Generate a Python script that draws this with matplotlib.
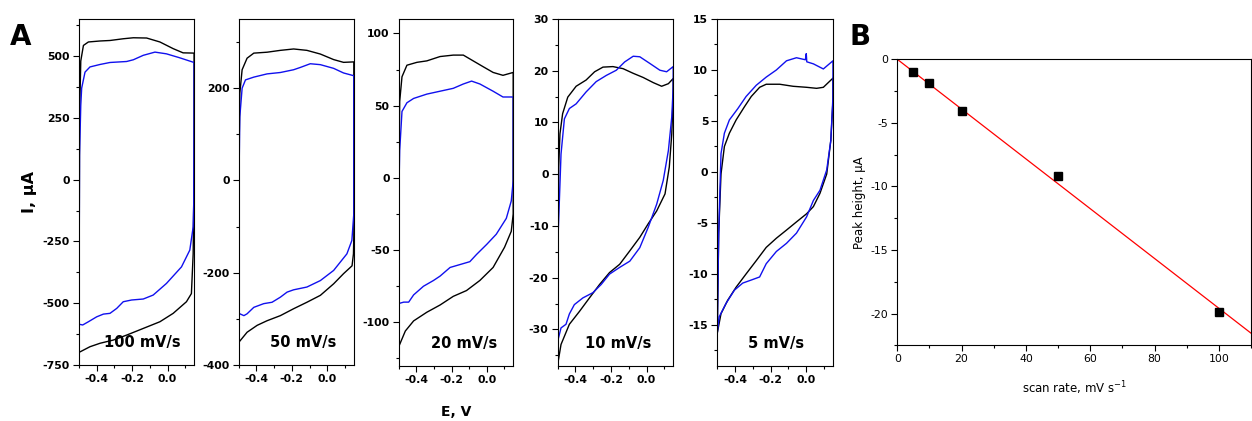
import numpy as np
import matplotlib.pyplot as plt
from matplotlib.ticker import MultipleLocator

plt.rcParams['font.family'] = ['DejaVu Sans']
plt.rcParams['axes.unicode_minus'] = False

# (E / V, I / uA) for the anodic (fwd) and cathodic (rev) half of each scan
cv100_black_fwd = [(-0.500, -699), (-0.497, 250), (-0.490, 480), (-0.475, 543), (-0.447, 557),
                   (-0.381, 561), (-0.325, 563), (-0.250, 570), (-0.193, 574), (-0.118, 573),
                   (-0.043, 557), (0.032, 530), (0.088, 513), (0.150, 512)]
cv100_black_rev = [(0.150, 30), (0.145, -300), (0.135, -461), (0.107, -494), (0.032, -541),
                   (-0.043, -575), (-0.137, -602), (-0.231, -629), (-0.306, -649), (-0.381, -662),
                   (-0.438, -676), (-0.500, -699)]
cv100_blue_fwd = [(-0.500, -585), (-0.497, 100), (-0.490, 300), (-0.485, 370), (-0.466, 435),
                  (-0.438, 456), (-0.381, 466), (-0.325, 474), (-0.231, 478), (-0.193, 485),
                  (-0.137, 503), (-0.071, 516), (-0.006, 509), (0.069, 493), (0.150, 474)]
cv100_blue_rev = [(0.150, 267), (0.148, -100), (0.145, -191), (0.126, -285), (0.079, -353),
                  (-0.006, -420), (-0.081, -467), (-0.137, -483), (-0.203, -487), (-0.250, -494),
                  (-0.287, -521), (-0.325, -541), (-0.362, -544), (-0.400, -555), (-0.447, -575),
                  (-0.479, -588), (-0.500, -585)]

cv50_black_fwd = [(-0.500, -351), (-0.497, 100), (-0.494, 189), (-0.481, 240), (-0.453, 265),
                  (-0.415, 276), (-0.340, 278), (-0.265, 282), (-0.190, 285), (-0.115, 282),
                  (-0.039, 274), (0.036, 262), (0.092, 256), (0.150, 257)]
cv50_black_rev = [(0.150, -120), (0.148, -159), (0.140, -185), (0.092, -202), (0.036, -224),
                  (-0.039, -249), (-0.115, -264), (-0.190, -278), (-0.265, -293), (-0.340, -304),
                  (-0.396, -314), (-0.453, -329), (-0.500, -351)]
cv50_blue_fwd = [(-0.500, -289), (-0.497, 50), (-0.494, 138), (-0.481, 200), (-0.462, 218),
                 (-0.415, 224), (-0.340, 231), (-0.265, 234), (-0.190, 240), (-0.152, 245),
                 (-0.096, 253), (-0.039, 251), (0.036, 243), (0.092, 233), (0.150, 227)]
cv50_blue_rev = [(0.150, -72), (0.139, -130), (0.111, -159), (0.036, -195), (-0.039, -217),
                 (-0.115, -231), (-0.190, -237), (-0.227, -242), (-0.265, -253), (-0.312, -264),
                 (-0.359, -267), (-0.415, -275), (-0.453, -289), (-0.471, -293), (-0.494, -289),
                 (-0.500, -289)]

cv20_black_fwd = [(-0.500, -117), (-0.497, 20), (-0.494, 53), (-0.481, 70), (-0.453, 78),
                  (-0.396, 80), (-0.340, 81), (-0.265, 84), (-0.190, 85), (-0.133, 85),
                  (-0.077, 81), (-0.021, 77), (0.036, 73), (0.092, 71), (0.150, 73)]
cv20_black_rev = [(0.150, -25), (0.139, -37), (0.101, -48), (0.036, -62), (-0.039, -71),
                  (-0.115, -78), (-0.190, -82), (-0.265, -88), (-0.340, -93), (-0.415, -99),
                  (-0.462, -106), (-0.500, -117)]
cv20_blue_fwd = [(-0.500, -87), (-0.497, 0), (-0.494, 19), (-0.481, 46), (-0.453, 52),
                 (-0.415, 55), (-0.340, 58), (-0.265, 60), (-0.190, 62), (-0.133, 65),
                 (-0.086, 67), (-0.039, 65), (0.036, 60), (0.092, 56), (0.150, 56)]
cv20_blue_rev = [(0.150, -2), (0.139, -16), (0.111, -28), (0.054, -39), (0.000, -46),
                 (-0.058, -53), (-0.096, -58), (-0.152, -60), (-0.208, -62), (-0.265, -68),
                 (-0.302, -71), (-0.359, -75), (-0.415, -81), (-0.443, -86), (-0.471, -86),
                 (-0.500, -87)]

cv10_black_fwd = [(-0.500, -36.8), (-0.497, -11.6), (-0.494, 1.4), (-0.487, 7.8), (-0.472, 11.7),
                  (-0.443, 14.9), (-0.396, 17.0), (-0.340, 18.2), (-0.292, 19.8), (-0.245, 20.7),
                  (-0.189, 20.8), (-0.132, 20.4), (-0.075, 19.5), (-0.019, 18.7), (0.038, 17.7),
                  (0.085, 17.0), (0.123, 17.5), (0.150, 18.5)]
cv10_black_rev = [(0.150, 15.6), (0.142, 7.8), (0.128, 1.4), (0.104, -3.8), (0.057, -7.1),
                  (0.009, -9.6), (-0.038, -12.2), (-0.094, -14.8), (-0.151, -17.4), (-0.208, -19.0),
                  (-0.264, -21.3), (-0.321, -23.9), (-0.377, -26.5), (-0.434, -29.0), (-0.481, -32.9),
                  (-0.500, -36.8)]
cv10_blue_fwd = [(-0.500, -32.3), (-0.497, -11.6), (-0.481, 3.9), (-0.462, 10.7), (-0.434, 12.7),
                 (-0.396, 13.6), (-0.340, 15.9), (-0.283, 17.9), (-0.226, 19.1), (-0.170, 20.1),
                 (-0.123, 21.7), (-0.075, 22.8), (-0.038, 22.7), (0.019, 21.4), (0.075, 20.1),
                 (0.113, 19.8), (0.150, 20.8)]
cv10_blue_rev = [(0.150, 16.9), (0.142, 11.1), (0.123, 4.6), (0.094, -1.2), (0.057, -5.8),
                 (0.009, -10.3), (-0.038, -14.2), (-0.094, -16.8), (-0.151, -18.0), (-0.208, -19.3),
                 (-0.255, -21.3), (-0.302, -22.9), (-0.358, -23.9), (-0.406, -25.2), (-0.434, -27.0),
                 (-0.453, -29.0), (-0.481, -29.7), (-0.500, -32.3)]

cv5_black_fwd = [(-0.500, -15.8), (-0.492, -6.0), (-0.479, -0.2), (-0.460, 2.5), (-0.432, 3.8),
                 (-0.394, 5.1), (-0.347, 6.4), (-0.309, 7.4), (-0.262, 8.3), (-0.225, 8.6),
                 (-0.149, 8.6), (-0.074, 8.4), (0.002, 8.3), (0.058, 8.2), (0.096, 8.3),
                 (0.150, 9.2)]
cv5_black_rev = [(0.150, 7.0), (0.138, 3.1), (0.115, -0.2), (0.077, -2.1), (0.040, -3.4),
                 (0.002, -4.1), (-0.055, -4.9), (-0.111, -5.7), (-0.168, -6.5), (-0.225, -7.4),
                 (-0.281, -8.7), (-0.338, -10.0), (-0.394, -11.3), (-0.442, -12.6), (-0.479, -13.9),
                 (-0.500, -15.8)]
cv5_blue_fwd = [(-0.500, -15.8), (-0.492, -6.0), (-0.479, 1.8), (-0.460, 3.8), (-0.432, 5.1),
                (-0.385, 6.2), (-0.338, 7.4), (-0.281, 8.5), (-0.225, 9.3), (-0.168, 10.0),
                (-0.111, 10.9), (-0.055, 11.2), (-0.005, 11.0), (0.000, 11.6), (0.003, 10.8),
                (0.040, 10.6), (0.096, 10.1), (0.150, 10.9)]
cv5_blue_rev = [(0.150, 7.4), (0.138, 3.1), (0.115, 0.2), (0.077, -1.8), (0.040, -2.8),
                (0.002, -4.4), (-0.055, -6.0), (-0.111, -7.0), (-0.168, -7.8), (-0.225, -9.0),
                (-0.262, -10.3), (-0.309, -10.6), (-0.357, -10.9), (-0.404, -11.6), (-0.451, -12.9),
                (-0.489, -14.2), (-0.500, -15.8)]

# peak height vs scan rate
scan_rate = [5, 10, 20, 50, 100]
peak_height = [-1.0, -1.9, -4.1, -9.2, -19.85]

panels = [
    # label, curves, ylim, major, minor, ax rect, label x
    ('100 mV/s', (cv100_black_fwd, cv100_black_rev, cv100_blue_fwd, cv100_blue_rev),
     (-750, 650), 250, 125, [0.0631, 0.1330, 0.0919, 0.8219], 0.55),
    ('50 mV/s', (cv50_black_fwd, cv50_black_rev, cv50_blue_fwd, cv50_blue_rev),
     (-400, 350), 200, 100, [0.1907, 0.1330, 0.0919, 0.8219], 0.56),
    ('20 mV/s', (cv20_black_fwd, cv20_black_rev, cv20_blue_fwd, cv20_blue_rev),
     (-130, 110), 50, 25, [0.3184, 0.1314, 0.0915, 0.8235], 0.57),
    ('10 mV/s', (cv10_black_fwd, cv10_black_rev, cv10_blue_fwd, cv10_blue_rev),
     (-37, 30), 10, 5, [0.4454, 0.1314, 0.0923, 0.8235], 0.52),
    ('5 mV/s', (cv5_black_fwd, cv5_black_rev, cv5_blue_fwd, cv5_blue_rev),
     (-19, 15), 5, 2.5, [0.5729, 0.1314, 0.0924, 0.8235], 0.51),
]

fig = plt.figure(figsize=(12.52, 4.21), dpi=100)


def style_axes(ax, size, weight):
    for sp in ax.spines.values():
        sp.set_linewidth(0.8)
    ax.tick_params(which='both', direction='out', top=False, right=False,
                   labelsize=size, width=0.8)
    ax.tick_params(which='major', length=4, pad=2.5)
    ax.tick_params(which='minor', length=2.5)
    for t in ax.get_xticklabels() + ax.get_yticklabels():
        t.set_fontweight(weight)


for i, (label, (bk_f, bk_r, bl_f, bl_r), ylim, major, minor, rect, lx) in enumerate(panels):
    ax = fig.add_axes(rect)
    bk = np.array(bk_f + bk_r)
    bl = np.array(bl_f + bl_r)
    ax.plot(bk[:, 0], bk[:, 1], color='black', lw=1.0)
    ax.plot(bl[:, 0], bl[:, 1], color='#1010ee', lw=1.0)
    ax.set_xlim(-0.5, 0.15)
    ax.set_ylim(*ylim)
    ax.xaxis.set_major_locator(MultipleLocator(0.2))
    ax.xaxis.set_minor_locator(MultipleLocator(0.1))
    ax.yaxis.set_major_locator(MultipleLocator(major))
    ax.yaxis.set_minor_locator(MultipleLocator(minor))
    ax.xaxis.set_major_formatter(plt.FuncFormatter(lambda v, p: '%.1f' % (0.0 if abs(v) < 1e-9 else v)))
    style_axes(ax, 7.8, 'bold')
    ax.text(lx, 0.064, label, transform=ax.transAxes, ha='center', va='center',
            fontsize=10.5, fontweight='bold')
    if i == 0:
        ax.set_ylabel('I, \u03bcA', fontsize=11.5, fontweight='bold', labelpad=4)

fig.text(456 / 1252, 1 - 412 / 421, 'E, V', ha='center', va='center', fontsize=10, fontweight='bold')
fig.text(21 / 1252, 1 - 37 / 421, 'A', ha='center', va='center', fontsize=20, fontweight='bold')
fig.text(860 / 1252, 1 - 37 / 421, 'B', ha='center', va='center', fontsize=20, fontweight='bold')

# panel B: peak height against scan rate with a fit through the origin
axb = fig.add_axes([0.7167, 0.1798, 0.2825, 0.6793])
x = np.array(scan_rate, dtype=float)
y = np.array(peak_height)
slope = np.sum(x * y) / np.sum(x * x)
xf = np.array([0, 110.0])
axb.plot(xf, slope * xf, color='red', lw=0.9)
axb.plot(x, y, 's', color='black', ms=6)
axb.set_xlim(0, 110)
axb.set_ylim(-22.5, 0)
axb.xaxis.set_major_locator(MultipleLocator(20))
axb.xaxis.set_minor_locator(MultipleLocator(10))
axb.yaxis.set_major_locator(MultipleLocator(5))
axb.yaxis.set_minor_locator(MultipleLocator(2.5))
style_axes(axb, 7.8, 'normal')
axb.set_xlabel('scan rate, mV s$^{-1}$', fontsize=8.5, labelpad=11)
axb.set_ylabel('Peak height, \u03bcA', fontsize=8.5, labelpad=3)

fig.savefig('out.png', dpi=100)
